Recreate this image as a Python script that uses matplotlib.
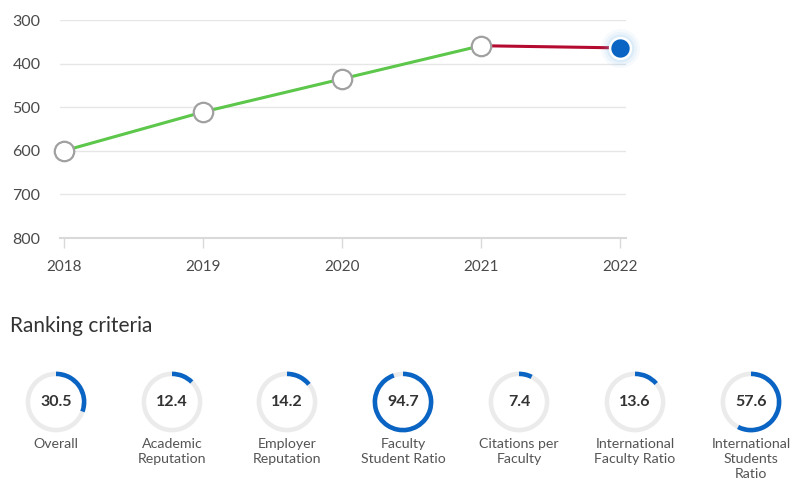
import matplotlib
matplotlib.use("Agg")
import matplotlib.pyplot as plt

years = [2018, 2019, 2020, 2021, 2022]
ranks = [600, 511, 435, 359, 364]
y_ticks = [300, 400, 500, 600, 700, 800]

criteria = ["Overall", "Academic\nReputation", "Employer\nReputation",
            "Faculty\nStudent Ratio", "Citations per\nFaculty",
            "International\nFaculty Ratio", "International\nStudents\nRatio"]
scores = [30.5, 12.4, 14.2, 94.7, 7.4, 13.6, 57.6]

plt.rcParams['font.family'] = ['Lato', 'DejaVu Sans']

W, H = 790, 487
fig = plt.figure(figsize=(W / 100, H / 100), dpi=100)

def fx(px):
    return px / W

def fy(py):
    return 1 - py / H

# ---- line chart ----
left, right, top, bottom = 60, 626, 20, 238
ax = fig.add_axes([fx(left), fy(bottom), (right - left) / W, (bottom - top) / H])
x0 = 2018 - 4 / 139
x1 = 2022 + 6 / 139
ax.set_xlim(x0, x1)
ax.set_ylim(800, 300)
ax.set_yticks(y_ticks)
ax.set_xticks(years)
ax.grid(axis='y', color='#e6e6e6', linewidth=1)
ax.set_axisbelow(True)
for s in ['top', 'right', 'left']:
    ax.spines[s].set_visible(False)
ax.spines['bottom'].set_color('#d9d9d9')
ax.spines['bottom'].set_linewidth(1.5)
ax.tick_params(axis='y', length=0, pad=14, labelsize=11.5, labelcolor='#4a4a4a')
ax.tick_params(axis='x', length=7, width=1, color='#d9d9d9', pad=9,
               labelsize=11, labelcolor='#4a4a4a')

ax.plot(years[:4], ranks[:4], color='#5cc74a', linewidth=2.2, zorder=3, clip_on=False)
ax.plot(years[3:], ranks[3:], color='#b50a2f', linewidth=2.2, zorder=3, clip_on=False)
ax.plot(years[:4], ranks[:4], 'o', markersize=14, markerfacecolor='white',
        markeredgecolor='#a0a0a0', markeredgewidth=1.6, zorder=4, clip_on=False)
# glow for the current point
for ms, a in [(28, 0.06), (24, 0.08), (20, 0.12)]:
    ax.plot(years[4:], ranks[4:], 'o', markersize=ms, markerfacecolor='#6fb0ea',
            markeredgecolor='none', alpha=a, zorder=4, clip_on=False)
ax.plot(years[4:], ranks[4:], 'o', markersize=15, markerfacecolor='#0a64c4',
        markeredgecolor='white', markeredgewidth=1.8, zorder=5, clip_on=False)

# ---- ranking criteria ----
fig.text(fx(10), fy(326), "Ranking criteria", fontsize=15, color='#333333',
         ha='left', va='center')

centers = [56, 172, 287, 403, 519, 635, 751]
cy = 402
R = 31
for cx, label, val in zip(centers, criteria, scores):
    dax = fig.add_axes([fx(cx - R), fy(cy + R), 2 * R / W, 2 * R / H])
    dax.pie([100], radius=1, colors=['#ebebeb'], startangle=90,
            wedgeprops=dict(width=0.15, edgecolor='none'))
    dax.pie([val, 100 - val], radius=1, colors=['#0a64c4', 'none'],
            startangle=90, counterclock=False,
            wedgeprops=dict(width=0.15, edgecolor='none'))
    dax.set_xlim(-1.02, 1.02)
    dax.set_ylim(-1.02, 1.02)
    dax.set_aspect('equal')
    dax.axis('off')
    fig.text(fx(cx), fy(cy), f"{val:.1f}", fontsize=11.5, fontweight='bold',
             color='#333333', ha='center', va='center')
    fig.text(fx(cx), fy(438), label, fontsize=10.2, color='#555555',
             ha='center', va='top', linespacing=1.3)

fig.savefig("out.png", dpi=100)
